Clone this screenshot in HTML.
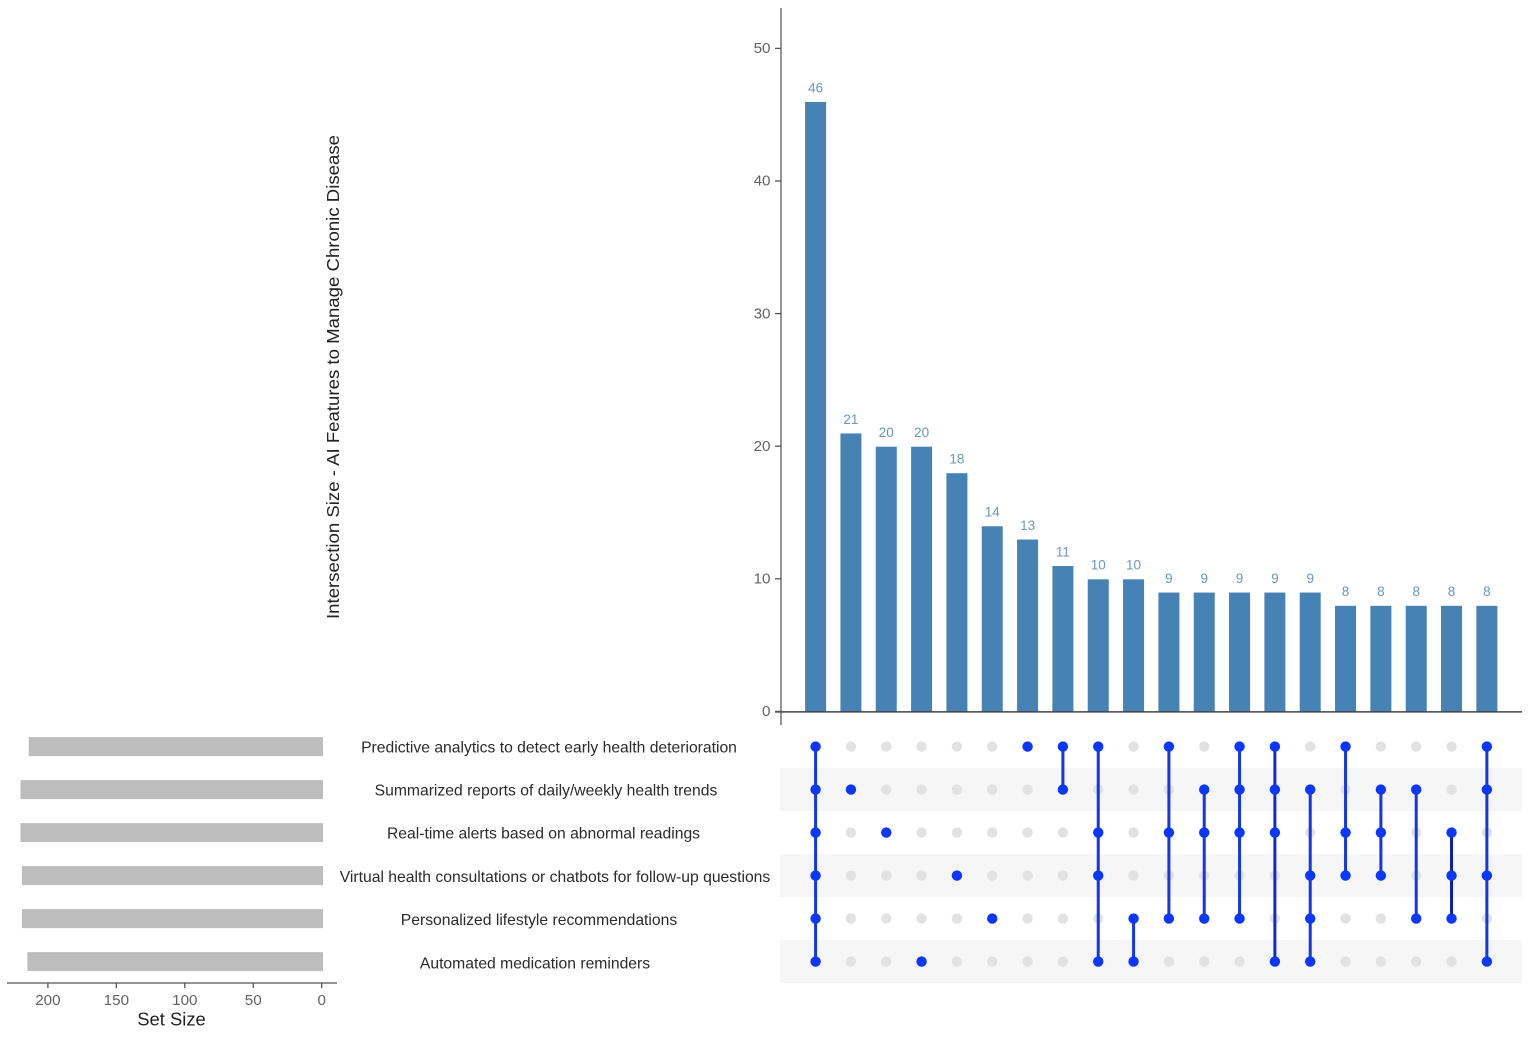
<!DOCTYPE html>
<html lang="en">
<head>
<meta charset="utf-8">
<title>Intersection Size - AI Features to Manage Chronic Disease</title>
<style>
html,body{margin:0;padding:0;background:#fff;width:1535px;height:1042px;overflow:hidden}
svg{display:block;font-family:"Liberation Sans",Arial,sans-serif;filter:blur(0.35px)}
</style>
</head>
<body>
<svg id="chart" xmlns="http://www.w3.org/2000/svg" width="1535" height="1042" viewBox="0 0 1535 1042"></svg>
<script>
const intersectionValues = [46, 21, 20, 20, 18, 14, 13, 11, 10, 10, 9, 9, 9, 9, 9, 8, 8, 8, 8, 8];
const intersectionTicks = [0, 10, 20, 30, 40, 50];
const setNames = [
  "Predictive analytics to detect early health deterioration",
  "Summarized reports of daily/weekly health trends",
  "Real-time alerts based on abnormal readings",
  "Virtual health consultations or chatbots for follow-up questions",
  "Personalized lifestyle recommendations",
  "Automated medication reminders"
];
const setSizes = [214, 220, 220, 219, 219, 215];
const setSizeTicks = [200, 150, 100, 50, 0];
const memberships = [
  [0, 1, 2, 3, 4, 5], [1], [2], [5], [3], [4], [0], [0, 1], [0, 2, 3, 5], [4, 5],
  [0, 2, 4], [1, 2, 4], [0, 1, 2, 4], [0, 1, 2, 5], [1, 3, 4, 5], [0, 2, 3], [1, 2, 3], [1, 4], [2, 3, 4], [0, 1, 3, 5]
];

const svg = document.getElementById('chart');
const NS = 'http://www.w3.org/2000/svg';
const colX = i => 815.6 + i * 35.33;
const yVal = v => 711.9 - v * 13.26;
const rowY = r => 746.6 + r * 43;
const labelY = r => 752.3 + r * 43.2;
const xSize = v => 321.7 - v * 1.369;
const labelCenters = [549, 546, 543.5, 555, 539, 535];
const connectorColor = i => (i === 18 ? '#0a20a8' : i === 13 ? '#0f2cc8' : '#1337e6');

function make(tag, attrs, text) {
  const el = document.createElementNS(NS, tag);
  for (const k in attrs) el.setAttribute(k, attrs[k]);
  if (text !== undefined) el.textContent = text;
  svg.appendChild(el);
  return el;
}

// Matrix stripes
setNames.forEach((name, r) => {
  if (r % 2 === 1) {
    const stripe = make('rect', {x: 780, y: rowY(r) - 21.5, width: 742, height: 43, fill: '#f6f6f6'});
    
    
  }
});

// Intersection bars and value labels
intersectionValues.forEach((v, i) => {
  const bar = make('rect', {x: colX(i) - 10.5, y: yVal(v), width: 21, height: yVal(0) - yVal(v), fill: '#4682b4'});
  
  
  const label = make('text', {x: colX(i), y: yVal(v) - 9.6, 'text-anchor': 'middle', 'font-size': 13.5, fill: '#6c95bf'}, String(v));
  
  
});

// Intersection axis
const yAxisLine = make('line', {x1: 781, y1: 8, x2: 781, y2: 725, stroke: '#5a5a5a', 'stroke-width': 1.3});


const xAxisLine = make('line', {x1: 775, y1: 711.9, x2: 1522, y2: 711.9, stroke: '#444', 'stroke-width': 1.5});


intersectionTicks.forEach(t => {
  const tick = make('line', {x1: 775, y1: yVal(t) - 0.5, x2: 781, y2: yVal(t) - 0.5, stroke: '#555', 'stroke-width': 1.3});
  
  
  const label = make('text', {x: 770.5, y: yVal(t) + 4.2, 'text-anchor': 'end', 'font-size': 15.2, fill: '#636363'}, String(t));
  
  
});
const yTitle = make('text', {transform: 'translate(339 377) rotate(-90)', 'text-anchor': 'middle', 'font-size': 17.8, fill: '#222', textLength: 484, lengthAdjust: 'spacingAndGlyphs'}, 'Intersection Size - AI Features to Manage Chronic Disease');



// Matrix background dots
memberships.forEach((m, i) => {
  setNames.forEach((name, r) => {
    if (!m.includes(r)) {
      const dot = make('circle', {cx: colX(i), cy: rowY(r), r: 5.2, fill: '#e2e2e2'});
      
      
    }
  });
});

// Matrix connectors and active dots
memberships.forEach((m, i) => {
  if (m.length > 1) {
    const conn = make('line', {x1: colX(i), y1: rowY(Math.min(...m)), x2: colX(i), y2: rowY(Math.max(...m)), stroke: connectorColor(i), 'stroke-width': 3});
    
    
  }
  m.forEach(r => {
    const dot = make('circle', {cx: colX(i), cy: rowY(r), r: 5.2, fill: '#0a37fb'});
    
    
  });
});

// Set names
setNames.forEach((name, r) => {
  const label = make('text', {x: labelCenters[r], y: labelY(r), 'text-anchor': 'middle', 'font-size': 15.7, fill: '#2b2b2b'}, name);
  
  
});

// Set size bars
setSizes.forEach((v, r) => {
  const bar = make('rect', {x: xSize(v), y: rowY(r) - 9.5, width: 323 - xSize(v), height: 19, fill: '#bdbdbd'});
  
  
});

// Set size axis
const setAxis = make('line', {x1: 7, y1: 983, x2: 337, y2: 983, stroke: '#555', 'stroke-width': 1.3});


setSizeTicks.forEach(t => {
  const tick = make('line', {x1: xSize(t), y1: 983, x2: xSize(t), y2: 988, stroke: '#555', 'stroke-width': 1.3});
  
  
  const label = make('text', {x: xSize(t), y: 1005, 'text-anchor': 'middle', 'font-size': 15.2, fill: '#636363'}, String(t));
  
  
});
const setTitle = make('text', {x: 171.5, y: 1025.5, 'text-anchor': 'middle', 'font-size': 18.4, fill: '#222'}, 'Set Size');


</script>
</body>
</html>
